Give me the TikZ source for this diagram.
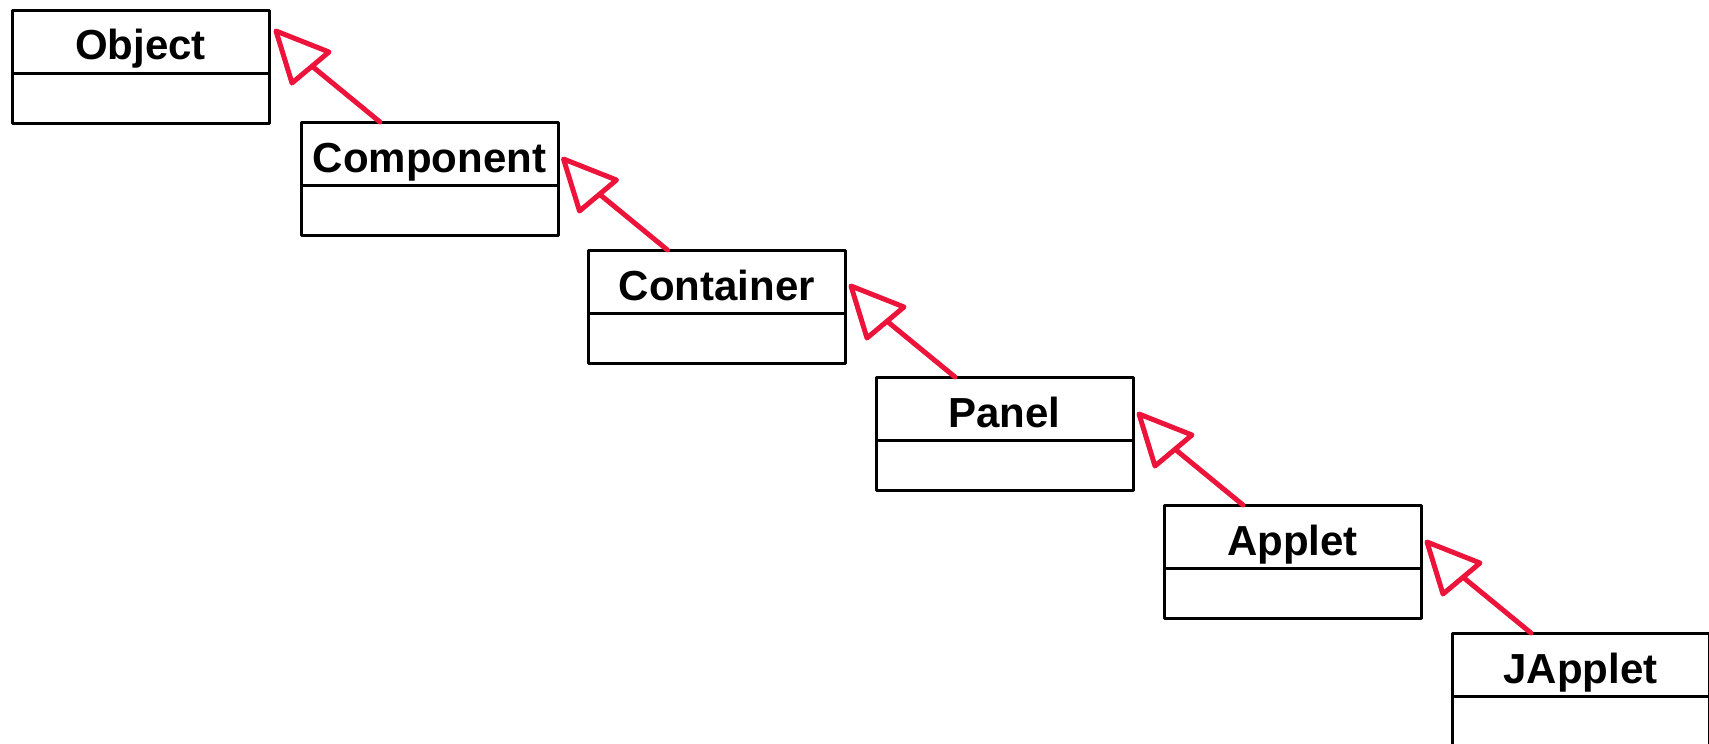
\documentclass[tikz,border=0pt]{standalone}
\usepackage{fontspec}
\setmainfont{Liberation Sans}
\usetikzlibrary{calc}
\definecolor{inhred}{RGB}{237,20,60}
% #1 = subclass, #2 = superclass
\newcommand\inharrow[2]{%
  \coordinate (tip-#1-#2) at ($(#1.north west)+(-25,-91)$);
  \draw[inhline] ($(#1.north west)+(79,0)$) -- ($(tip-#1-#2)+(37,36)$);
  \draw[inhline] (tip-#1-#2) -- ++(53,21) -- ++(-37,31) -- cycle;}
\begin{document}
\begin{tikzpicture}[x=0.5pt,y=-0.5pt,
  head/.style={draw=black, line width=1.5pt, outer sep=0pt, minimum width=128.5pt,
    minimum height=31.5pt, inner sep=0pt, text height=25pt, text depth=6.5pt,
    font=\bfseries\fontsize{21}{21}\selectfont, line join=round},
  body/.style={draw=black, line width=1.5pt, outer sep=0pt, minimum width=128.5pt,
    minimum height=25pt, inner sep=0pt, anchor=north, line join=round},
  inhline/.style={draw=inhred, line width=2.5pt, line join=round, line cap=round}]
\useasboundingbox (0,0) rectangle (1709,744);
% headers (centre = left+128.5, top+31.5)
\node[head] (obj)  at (140.5,41.5)   {Object};
\node[head] (comp) at (429.5,153.5)  {Component};
\node[head] (cont) at (717,281.5)    {Container};
\node[head] (pan)  at (1004.5,408.5) {Panel};
\node[head] (app)  at (1292.5,536.5) {Applet};
\node[head] (japp) at (1580.5,664.5) {JApplet};
% bodies
\node[body] (objb)  at (obj.south)  {};
\node[body] (compb) at (comp.south) {};
\node[body] (contb) at (cont.south) {};
\node[body] (panb)  at (pan.south)  {};
\node[body] (appb)  at (app.south)  {};
\node[body] (jappb) at (japp.south) {};
% inheritance arrows
\inharrow{comp}{obj}
\inharrow{cont}{comp}
\inharrow{pan}{cont}
\inharrow{app}{pan}
\inharrow{japp}{app}
\end{tikzpicture}
\end{document}
